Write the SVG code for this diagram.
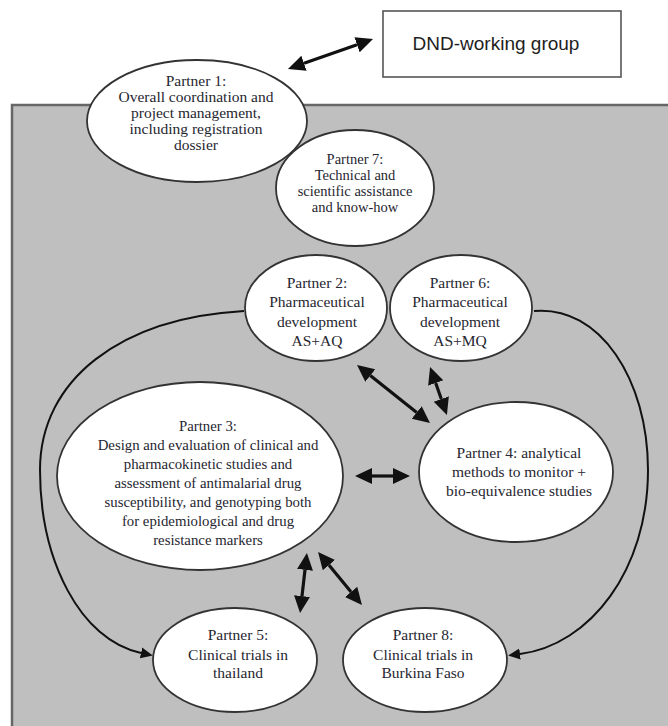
<svg xmlns="http://www.w3.org/2000/svg" width="668" height="726" viewBox="0 0 668 726">
  <style>
    .node ellipse { fill: #ffffff; stroke: #333333; stroke-width: 1.8; }
    .node text { font-family: "Liberation Serif", "Times New Roman", serif; font-size: 15.5px; fill: #262630; text-anchor: middle; }
    #partner3 text { font-size: 14.8px; }
    #partner7 text { font-size: 14.5px; }
    .box rect { fill: #ffffff; stroke: #555555; stroke-width: 1.6; }
    .box text { font-family: "Liberation Sans", Arial, sans-serif; font-size: 19px; fill: #1e1e1e; text-anchor: middle; }
    .link { fill: none; stroke: #111111; stroke-width: 3.2; }
    .curve { fill: none; stroke: #111111; stroke-width: 2; }
  </style>
  <defs>
    <marker id="head" viewBox="0 -9 18 18" refX="0" refY="0" markerWidth="18" markerHeight="18" markerUnits="userSpaceOnUse" orient="auto-start-reverse">
      <path d="M0,-8 L17,0 L0,8 z" fill="#111111"/>
    </marker>
    <marker id="tip" viewBox="0 -6 13 12" refX="0" refY="0" markerWidth="13" markerHeight="12" markerUnits="userSpaceOnUse" orient="auto">
      <path d="M0,-5.5 L12,0 L0,5.5 z" fill="#111111"/>
    </marker>
  </defs>

  <!-- white page -->
  <rect x="0" y="0" width="668" height="726" fill="#ffffff"/>

  <!-- shaded consortium area -->
  <rect x="12" y="105" width="680" height="650" fill="#bfbfbf" stroke="#666666" stroke-width="2.5"/>

  <!-- external working group -->
  <g id="dnd" class="box">
    <rect x="383" y="11" width="238" height="66"/>
    <text x="496" y="50">DND-working group</text>
  </g>

  <!-- connectors -->
  <g id="connectors">
    <line class="link" x1="304" y1="63.3" x2="357" y2="44.7" marker-start="url(#head)" marker-end="url(#head)"/>
    <path class="curve" d="M244,311 C120,318 40,380 40,470 C40,560 80,640 141,653" marker-end="url(#tip)"/>
    <path class="curve" d="M534,311 C600,305 648,380 648,470 C648,570 590,645 520,654" marker-end="url(#tip)"/>
  </g>

  <g id="partner1" class="node">
    <ellipse cx="197" cy="121" rx="110" ry="61"/>
    <text x="196" y="86">Partner 1:</text>
    <text x="196" y="102">Overall coordination and</text>
    <text x="196" y="118">project management,</text>
    <text x="196" y="134">including registration</text>
    <text x="196" y="150">dossier</text>
  </g>

  <g id="partner7" class="node">
    <ellipse cx="355" cy="188" rx="79" ry="58"/>
    <text x="355" y="164">Partner 7:</text>
    <text x="355" y="180">Technical and</text>
    <text x="355" y="196">scientific assistance</text>
    <text x="355" y="212">and know-how</text>
  </g>

  <g id="partner2" class="node">
    <ellipse cx="316" cy="308" rx="71" ry="53"/>
    <text x="317" y="288">Partner 2:</text>
    <text x="317" y="307">Pharmaceutical</text>
    <text x="317" y="327">development</text>
    <text x="317" y="346">AS+AQ</text>
  </g>

  <g id="partner6" class="node">
    <ellipse cx="461" cy="308" rx="71" ry="53"/>
    <text x="460" y="288">Partner 6:</text>
    <text x="460" y="307">Pharmaceutical</text>
    <text x="460" y="327">development</text>
    <text x="460" y="346">AS+MQ</text>
  </g>

  <g id="partner3" class="node">
    <ellipse cx="200" cy="476" rx="143" ry="94"/>
    <text x="208" y="431">Partner 3:</text>
    <text x="208" y="450">Design and evaluation of clinical and</text>
    <text x="208" y="469">pharmacokinetic studies and</text>
    <text x="208" y="488">assessment of antimalarial drug</text>
    <text x="208" y="507">susceptibility, and genotyping both</text>
    <text x="208" y="526">for epidemiological and drug</text>
    <text x="208" y="545">resistance markers</text>
  </g>

  <g id="partner4" class="node">
    <ellipse cx="516" cy="472" rx="97" ry="70"/>
    <text x="519" y="458">Partner 4: analytical</text>
    <text x="519" y="477">methods to monitor +</text>
    <text x="519" y="496">bio-equivalence studies</text>
  </g>

  <g id="partner5" class="node">
    <ellipse cx="235" cy="660" rx="82" ry="52"/>
    <text x="238" y="640">Partner 5:</text>
    <text x="238" y="660">Clinical trials in</text>
    <text x="238" y="678">thailand</text>
  </g>

  <g id="partner8" class="node">
    <ellipse cx="425" cy="660" rx="82" ry="52"/>
    <text x="423" y="640">Partner 8:</text>
    <text x="423" y="660">Clinical trials in</text>
    <text x="423" y="678">Burkina Faso</text>
  </g>

  <!-- two-way links between partners -->
  <g id="links">
    <line class="link" x1="370.3" y1="375.6" x2="416.7" y2="412.4" marker-start="url(#head)" marker-end="url(#head)"/>
    <line class="link" x1="435.7" y1="383" x2="441.3" y2="399" marker-start="url(#head)" marker-end="url(#head)"/>
    <line class="link" x1="372" y1="476" x2="393" y2="476" marker-start="url(#head)" marker-end="url(#head)"/>
    <line class="link" x1="305" y1="569.9" x2="302" y2="596.1" marker-start="url(#head)" marker-end="url(#head)"/>
    <line class="link" x1="328.9" y1="565.1" x2="351.1" y2="591.9" marker-start="url(#head)" marker-end="url(#head)"/>
  </g>
</svg>
